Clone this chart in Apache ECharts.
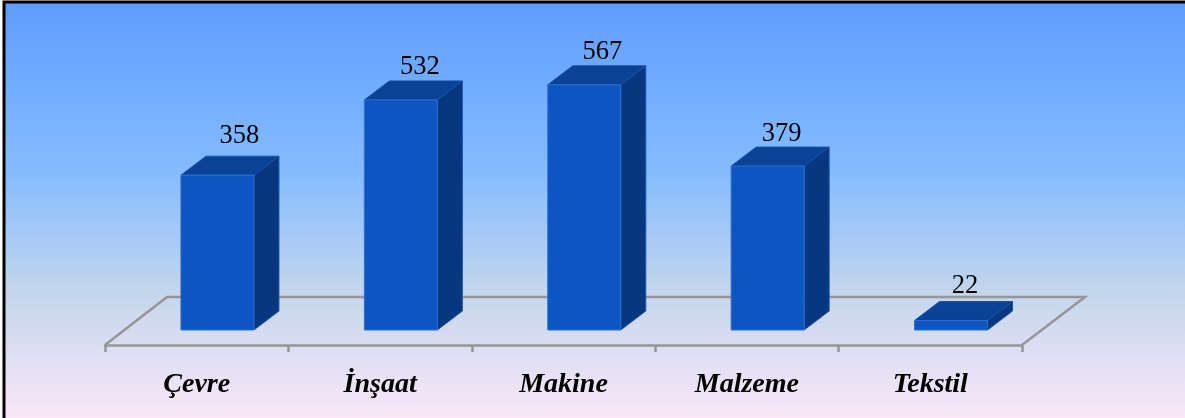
<!DOCTYPE html>
<html><head><meta charset="utf-8">
<style>html,body{margin:0;padding:0;background:#fff}#c{width:1185px;height:418px}</style>
<script src="https://cdn.jsdelivr.net/npm/echarts@6/dist/echarts.min.js"></script>
</head><body><div id="c"></div>
<script>
const categories = ['Çevre','İnşaat','Makine','Malzeme','Tekstil'];
const values = [358,532,567,379,22];
const labelNudgeX = [3,0,-1,-5,-5];
const labelNudgeY = [-6,0,0,1,-1];
const FONT = '"Liberation Serif",serif';
const chart = echarts.init(document.getElementById('c'),null,{renderer:'canvas'});
const X0=105,W=917,Y0=330,SCALE=0.4325,MAXV=700;
const DX=25,DY=19,BW=73,SHIFT=20.75;
const FLOOR_TOP=297,FLOOR_BOTTOM=345,FLOOR_DX=62;
chart.setOption({
  animation:false,
  backgroundColor:'#fff',
  graphic:[
    {type:'rect',z:-10,shape:{x:4,y:2,width:1210,height:440},
     style:{fill:new echarts.graphic.LinearGradient(0,0,0,1,[
       {offset:0,color:'#5f9dff'},{offset:0.39,color:'#85bcff'},{offset:0.66,color:'#c4d6ec'},{offset:0.94,color:'#fae7f9'},{offset:1,color:'#fae7f9'}]),
       stroke:'#000',lineWidth:3}}
  ],
  grid:[
    {left:X0,width:W,top:Y0-MAXV*SCALE,height:MAXV*SCALE},
    {left:X0,width:W,top:FLOOR_TOP,height:FLOOR_BOTTOM-FLOOR_TOP}
  ],
  xAxis:[
    {type:'category',gridIndex:0,data:categories,show:false},
    {type:'category',gridIndex:1,data:categories,boundaryGap:true,
     axisLine:{show:true,lineStyle:{color:'#969696',width:2.5}},
     axisTick:{show:true,length:7,lineStyle:{color:'#969696',width:2.5}},
     axisLabel:{color:'#000',fontFamily:FONT,fontStyle:'italic',fontWeight:'bold',fontSize:28,margin:26}}
  ],
  yAxis:[
    {type:'value',gridIndex:0,min:0,max:MAXV,interval:100,show:false,splitLine:{show:false}},
    {type:'value',gridIndex:1,min:0,max:1,show:false,splitLine:{show:false}}
  ],
  series:[
   {type:'custom',xAxisIndex:1,yAxisIndex:1,z:1,data:[[0,0]],silent:true,
    renderItem(p,api){
      const s=p.coordSys;const yb=s.y+s.height;
      return {type:'polyline',shape:{points:[[s.x,yb],[s.x+FLOOR_DX,s.y],[s.x+s.width+FLOOR_DX+1,s.y],[s.x+s.width,yb]]},
        style:{fill:'rgba(0,0,0,0)',stroke:'#969696',lineWidth:2.5}};
    }},
   {type:'custom',xAxisIndex:0,yAxisIndex:0,z:2,silent:true,
    data:values.map((v,i)=>[i,v]),
    encode:{x:0,y:1},
    renderItem(p,api){
      const c=api.coord([api.value(0),api.value(1)]);
      const b=api.coord([api.value(0),0]);
      const l=c[0]+SHIFT-BW/2,r=l+BW,t=c[1],bt=b[1];
      const i=p.dataIndex;
      return {type:'group',children:[
        {type:'polygon',shape:{points:[[l,t],[l+DX,t-DY],[r+DX,t-DY],[r,t]]},style:{fill:'#0a4295',stroke:'#1a52a6',lineWidth:1}},
        {type:'polygon',shape:{points:[[r,t],[r+DX,t-DY],[r+DX,bt-DY],[r,bt]]},style:{fill:'#08377f',stroke:'#1a52a6',lineWidth:1}},
        {type:'rect',shape:{x:l,y:t,width:BW,height:bt-t},style:{fill:'#0d55c3',stroke:'#2f6fcb',lineWidth:1}},
        {type:'text',x:l+BW/2+19+labelNudgeX[i],y:t-33+labelNudgeY[i],style:{text:String(api.value(1)),fill:'#000',font:'26.5px '+FONT,align:'center',verticalAlign:'middle'}}
      ]};
    }}
  ]
});
</script></body></html>
